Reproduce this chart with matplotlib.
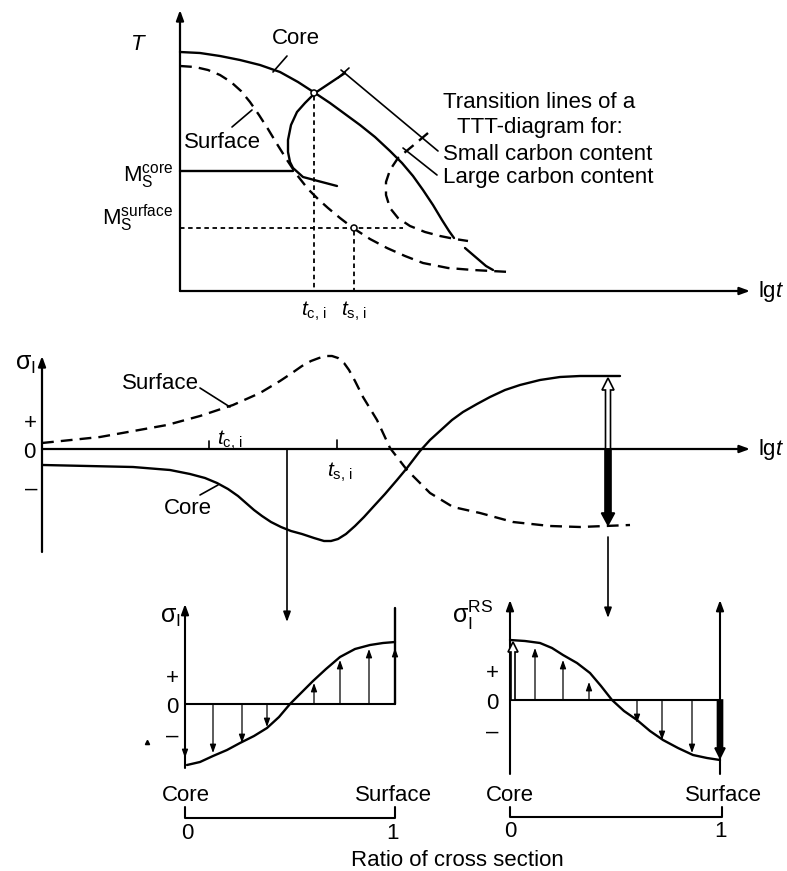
import matplotlib.pyplot as plt
from matplotlib.patches import FancyArrow, Circle

plt.rcParams['font.family'] = ['Liberation Sans', 'DejaVu Sans']
plt.rcParams['mathtext.fontset'] = 'custom'
plt.rcParams['mathtext.rm'] = 'Liberation Sans'
plt.rcParams['mathtext.it'] = 'Liberation Sans:italic'

# ---- top diagram: temperature vs lg t (layout units, y down) ----
core_cool_x = [180, 200, 220, 240, 260, 280, 298, 315, 330, 345, 360, 375, 390,
               402, 413, 423, 433, 442, 449, 454]
core_cool_y = [52, 53, 56, 60, 65, 72, 82, 93, 103, 114, 125, 137, 151,
               163, 176, 190, 205, 220, 231, 238]
core_tail_x = [465, 472, 479, 486, 493]
core_tail_y = [248, 254, 260, 266, 270]
surf_cool_x = [180, 195, 208, 220, 231, 241, 250, 259, 268, 277, 287, 297, 308,
               318, 328, 340, 353, 370, 387, 405, 423, 448, 473, 510]
surf_cool_y = [66, 67, 70, 75, 82, 91, 102, 115, 129, 144, 160, 175, 189,
               199, 208, 218, 228, 239, 248, 256, 263, 268, 270, 272]
ttt_small_x = [345, 330, 315, 305, 297, 291, 288, 288, 290, 293, 303, 318, 337]
ttt_small_y = [73, 83, 93, 103, 112, 125, 140, 152, 162, 168, 177, 181, 186]
ttt_large_x = [428, 415, 398, 390, 386, 386, 390, 398, 410, 425, 440, 455, 468]
ttt_large_y = [133, 144, 158, 170, 182, 195, 208, 218, 226, 232, 236, 239, 241]
ms_core_y = 171
ms_surf_y = 228
t_ci_x = 314
t_si_x = 354

# ---- middle diagram: stress vs lg t ----
mid_surf_x = [42, 100, 167, 200, 233, 260, 280, 292, 302, 311, 319, 326, 332,
              338, 344, 349, 355, 363, 377, 390, 407, 430, 453, 480, 513, 550,
              580, 630]
mid_surf_y = [443, 437, 425, 416, 405, 393, 381, 373, 366, 361, 358, 356, 356,
              358, 363, 370, 381, 397, 420, 448, 470, 493, 507, 513, 522, 526,
              527, 525]
mid_core_x = [43, 133, 170, 190, 205, 217, 228, 238, 246, 254, 262, 271, 281,
              291, 302, 314, 324, 331, 338, 346, 355, 364, 374, 385, 397, 407,
              420, 430, 441, 452, 463, 477, 490, 505, 520, 540, 560, 580, 620]
mid_core_y = [465, 467, 470, 474, 478, 483, 489, 496, 503, 510, 516, 522, 527,
              531, 534, 538, 541, 541, 539, 534, 526, 517, 506, 494, 480, 468,
              451, 440, 430, 420, 412, 404, 397, 390, 385, 380, 377, 376, 376]
mid_zero = 449
mid_tci_x = 209
mid_tsi_x = 337
end_x = 608

# ---- bottom diagrams: stress across the section ----
inst_x = [187, 200, 213, 227, 240, 254, 267, 279, 290, 302, 313, 326, 340, 355,
          370, 383, 395]
inst_y = [765, 762, 756, 750, 743, 736, 728, 717, 704, 692, 681, 669, 657, 649,
          645, 643, 642]
inst_arrow_x = [185, 213, 242, 267, 314, 340, 369, 395]
inst_arrow_tip = [758, 753, 743, 727, 683, 660, 649, 648]
rs_x = [510, 525, 540, 552, 563, 577, 590, 601, 612, 624, 637, 650, 663, 678,
        693, 707, 720]
rs_y = [640, 641, 643, 648, 655, 663, 673, 686, 700, 711, 720, 731, 740, 748,
        755, 758, 760]
rs_arrow_x = [535, 563, 589, 637, 662, 692]
rs_arrow_tip = [648, 660, 682, 723, 740, 753]

fig = plt.figure(figsize=(7.87, 8.71), dpi=100)
ax = fig.add_axes([0, 0, 1, 1])
ax.set_xlim(0, 787)
ax.set_ylim(871, 0)
ax.axis('off')

FS = 16
DASH = (0, (5, 3))
FINE = (0, (2.5, 2))


def curve(xs, ys, ls='-', lw=1.7):
    ax.plot(xs, ys, color='k', lw=lw, ls=ls, solid_capstyle='round',
            solid_joinstyle='round', dash_capstyle='butt')


def arrow(x0, y0, x1, y1, lw=1.1, hl=0.6, hw=0.22):
    ax.annotate('', xy=(x1, y1), xytext=(x0, y0),
                arrowprops=dict(arrowstyle=f'-|>,head_length={hl},head_width={hw}',
                                lw=lw, color='k', shrinkA=0, shrinkB=0))


def block(x, y0, y1, fc, w=5, hw=12, hl=11):
    ax.add_patch(FancyArrow(x, y0, 0, y1 - y0, width=w, head_width=hw,
                            head_length=hl, length_includes_head=True,
                            fc=fc, ec='k', lw=1.2, zorder=3))


# top axes
arrow(180, 291, 180, 10, lw=1.6)
arrow(180, 291, 750, 291, lw=1.6)
ax.text(138, 45, '$T$', fontsize=FS, ha='center', va='center')
ax.text(758, 291, 'lg$t$', fontsize=FS, ha='left', va='center')

curve(core_cool_x, core_cool_y)
curve(core_tail_x, core_tail_y)
curve(surf_cool_x, surf_cool_y, ls=DASH)
curve(ttt_small_x, ttt_small_y)
curve(ttt_large_x, ttt_large_y, ls=DASH)
curve([180, 293], [ms_core_y, ms_core_y])
curve([180, 403], [ms_surf_y, ms_surf_y], ls=FINE, lw=1.3)
curve([t_ci_x, t_ci_x], [96, 291], ls=FINE, lw=1.3)
curve([t_si_x, t_si_x], [231, 291], ls=FINE, lw=1.3)
for cx, cy in [(t_ci_x, 93), (t_si_x, ms_surf_y)]:
    ax.add_patch(Circle((cx, cy), 3, fc='white', ec='k', lw=1.1, zorder=3))

# leaders
curve([273, 287], [72, 56], lw=1.2)
curve([232, 252], [127, 110], lw=1.2)
curve([341, 438], [70, 151], lw=1.2)
curve([403, 437], [148, 175], lw=1.2)
curve([338, 349], [78, 68], lw=1.2)

ax.text(296, 38, 'Core', fontsize=FS, ha='center', va='center')
ax.text(222, 142, 'Surface', fontsize=FS, ha='center', va='center')
ax.text(173, 176, r'$\mathrm{M_S^{core}}$', fontsize=FS, ha='right', va='center')
ax.text(173, 218, r'$\mathrm{M_S^{surface}}$', fontsize=FS, ha='right', va='center')
ax.text(539, 103, 'Transition lines of a', fontsize=FS, ha='center', va='center')
ax.text(540, 128, 'TTT-diagram for:', fontsize=FS, ha='center', va='center')
ax.text(443, 154, 'Small carbon content', fontsize=FS, ha='left', va='center')
ax.text(443, 177, 'Large carbon content', fontsize=FS, ha='left', va='center')
ax.text(t_ci_x, 311, r'$t_\mathrm{c,\,i}$', fontsize=FS - 1, ha='center', va='center')
ax.text(t_si_x, 311, r'$t_\mathrm{s,\,i}$', fontsize=FS - 1, ha='center', va='center')

# middle axes
arrow(42, 552, 42, 356, lw=1.6)
arrow(42, mid_zero, 750, mid_zero, lw=1.6)
ax.text(758, mid_zero, 'lg$t$', fontsize=FS, ha='left', va='center')
ax.text(25, 364, r'$\mathrm{σ_I}$', fontsize=FS + 2, ha='center', va='center')
ax.text(30, 423, '+', fontsize=FS, ha='center', va='center')
ax.text(29, 452, '0', fontsize=FS, ha='center', va='center')
ax.text(31, 489, '–', fontsize=FS, ha='center', va='center')
curve([mid_tci_x, mid_tci_x], [441, mid_zero], lw=1.2)
curve([mid_tsi_x, mid_tsi_x], [440, mid_zero], lw=1.2)
ax.text(230, 440, r'$t_\mathrm{c,\,i}$', fontsize=FS - 1, ha='center', va='center')
ax.text(340, 472, r'$t_\mathrm{s,\,i}$', fontsize=FS - 1, ha='center', va='center')

curve(mid_surf_x, mid_surf_y, ls=DASH)
curve(mid_core_x, mid_core_y)
curve([200, 230], [388, 407], lw=1.2)
curve([200, 218], [495, 485], lw=1.2)
ax.text(160, 383, 'Surface', fontsize=FS, ha='center', va='center')
ax.text(188, 508, 'Core', fontsize=FS, ha='center', va='center')

arrow(287, mid_zero, 287, 622, lw=1.2)
block(end_x, mid_zero, 378, 'white', w=5, hw=12, hl=12)
block(end_x, mid_zero, 525, 'black', w=6, hw=13, hl=12)
arrow(end_x, 537, end_x, 618, lw=1.2)

# bottom left: stress at t_s,i
arrow(185, 768, 185, 604, lw=1.5)
curve([395, 395], [608, 704], lw=1.7)
curve([185, 395], [704, 704], lw=1.5)
curve(inst_x, inst_y)
for ax_x, tip in zip(inst_arrow_x, inst_arrow_tip):
    arrow(ax_x, 704, ax_x, tip, lw=0.9, hl=0.5, hw=0.18)
ax.text(170, 617, r'$\mathrm{σ_I}$', fontsize=FS + 2, ha='center', va='center')
ax.text(172, 678, '+', fontsize=FS, ha='center', va='center')
ax.text(172, 707, '0', fontsize=FS, ha='center', va='center')
ax.text(172, 736, '–', fontsize=FS, ha='center', va='center')
ax.text(186, 795, 'Core', fontsize=FS, ha='center', va='center')
ax.text(393, 795, 'Surface', fontsize=FS, ha='center', va='center')
curve([185, 185, 395, 395], [807, 818, 818, 807], lw=1.5)
ax.text(187, 833, '0', fontsize=FS, ha='center', va='center')
ax.text(393, 833, '1', fontsize=FS, ha='center', va='center')
ax.plot([147], [742], marker='^', ms=3, color='k')

# bottom right: residual stress
arrow(510, 774, 510, 600, lw=1.5)
arrow(720, 774, 720, 600, lw=1.5)
curve([510, 720], [700, 700], lw=1.5)
curve(rs_x, rs_y)
for ax_x, tip in zip(rs_arrow_x, rs_arrow_tip):
    arrow(ax_x, 700, ax_x, tip, lw=0.9, hl=0.5, hw=0.18)
block(513, 700, 642, 'white', w=4, hw=10, hl=10)
block(720, 700, 758, 'black', w=5, hw=10, hl=10)
ax.text(473, 615, r'$\mathrm{σ_I^{RS}}$', fontsize=FS + 2, ha='center', va='center')
ax.text(492, 673, '+', fontsize=FS, ha='center', va='center')
ax.text(492, 703, '0', fontsize=FS, ha='center', va='center')
ax.text(492, 732, '–', fontsize=FS, ha='center', va='center')
ax.text(510, 795, 'Core', fontsize=FS, ha='center', va='center')
ax.text(723, 795, 'Surface', fontsize=FS, ha='center', va='center')
curve([510, 510, 722, 722], [807, 817, 817, 807], lw=1.5)
ax.text(510, 831, '0', fontsize=FS, ha='center', va='center')
ax.text(720, 831, '1', fontsize=FS, ha='center', va='center')
ax.text(457, 860, 'Ratio of cross section', fontsize=FS, ha='center', va='center')

fig.savefig('out.png', dpi=100, facecolor='white')
